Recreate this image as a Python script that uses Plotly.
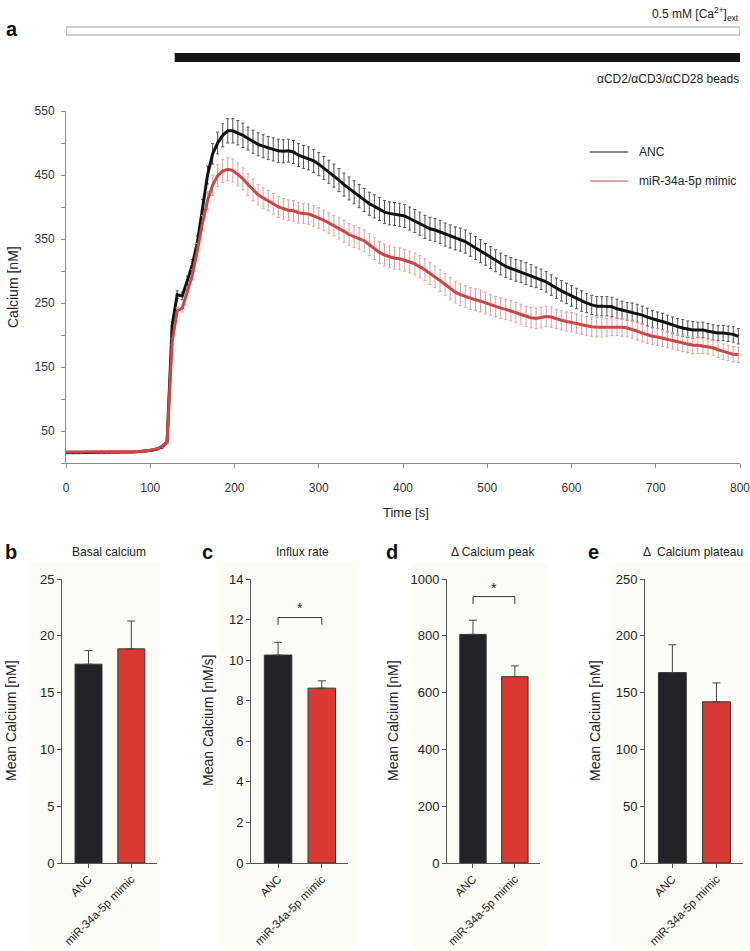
import plotly.graph_objects as go

# ---------------- data ----------------
time_s = list(range(0, 800, 6))  # sampling clock, 6 s

anc_mean = [16, 16, 16, 16.5, 17, 17, 17, 17, 17, 17,
            17, 17, 17, 17, 17.5, 18, 18.5, 20, 22, 25,
            33, 215, 263, 261, 285, 310, 345, 400, 450, 483,
            500, 512, 519, 519, 516, 512, 507, 502, 498, 495,
            492, 490, 488, 487, 488, 486, 481, 478, 476, 472,
            467, 461, 455, 449, 442, 435, 429, 423, 417, 411,
            405, 401, 397, 392, 390, 389, 388, 386, 382, 378,
            374, 369, 366, 364, 361, 357, 354, 351, 349, 346,
            341, 336, 331, 326, 321, 316, 311, 307, 304, 301,
            299, 296, 293, 290, 287, 283, 278, 273, 269, 265,
            261, 257, 253, 250, 247, 245, 245, 245, 244, 241,
            239, 237, 236, 234, 231, 228, 225, 223, 221, 218,
            215, 213, 211, 209, 208, 208, 208, 206, 204, 203,
            203, 202, 201, 198]

mimic_mean = [17, 17, 17, 17, 17.5, 17.5, 17, 17, 17, 17,
              17, 17, 17, 17.5, 18, 18, 19, 20, 22, 26,
              34, 190, 238, 242, 268, 294, 333, 375, 410, 434,
              449, 456, 459, 457, 451, 444, 435, 427, 419, 414,
              410, 405, 400, 397, 395, 394, 391, 390, 389, 386,
              383, 379, 375, 371, 367, 362, 357, 354, 351, 347,
              341, 335, 329, 325, 322, 320, 319, 317, 314, 311,
              307, 302, 296, 291, 285, 279, 273, 267, 263, 260,
              257, 255, 253, 250, 247, 244, 242, 240, 238, 235,
              232, 229, 227, 226, 227, 229, 228, 225, 223, 221,
              220, 218, 216, 214, 213, 212, 212, 212, 213, 213,
              212, 211, 209, 206, 203, 200, 198, 197, 195, 193,
              191, 189, 187, 185, 184, 184, 183, 182, 180, 177,
              174, 172, 170, 169]

anc_sem = [1, 1, 1, 1, 1, 1, 1, 1, 1, 1,
           1, 1, 1, 1, 1, 1, 1, 1.5, 2, 2,
           3, 6, 6, 6, 7, 8, 10, 12, 14, 16,
           17, 18, 19, 19, 19, 19, 18, 18, 18, 18,
           18, 18, 18, 18, 18, 18, 18, 18, 18, 18,
           18, 18, 18, 18, 18, 18, 18, 18, 18, 18,
           18, 18, 18, 18, 18, 18, 18, 18, 18, 18,
           18, 18, 18, 18, 18, 18, 18, 18, 18, 18,
           18, 18, 18, 17, 17, 17, 17, 17, 17, 17,
           17, 17, 17, 16, 16, 16, 16, 16, 16, 16,
           16, 16, 16, 15, 15, 15, 15, 15, 15, 15,
           14, 14, 14, 14, 14, 14, 13, 13, 13, 13,
           13, 13, 13, 13, 13, 12, 12, 12, 12, 12,
           12, 12, 12, 12]

mimic_sem = [1, 1, 1, 1, 1, 1, 1, 1, 1, 1,
             1, 1, 1, 1, 1, 1, 1, 1, 1.5, 2,
             3, 5, 5, 6, 7, 8, 10, 12, 14, 16,
             17, 18, 18, 18, 18, 17, 17, 17, 16, 16,
             16, 16, 16, 16, 16, 16, 16, 16, 16, 16,
             16, 16, 16, 16, 17, 17, 17, 17, 17, 17,
             17, 17, 17, 17, 17, 17, 17, 17, 17, 17,
             17, 17, 17, 17, 17, 17, 17, 17, 17, 17,
             17, 17, 17, 17, 16, 16, 16, 16, 16, 16,
             16, 16, 16, 16, 16, 16, 16, 15, 15, 15,
             15, 15, 15, 15, 15, 15, 15, 14, 14, 14,
             14, 14, 14, 14, 14, 13, 13, 13, 13, 13,
             13, 13, 13, 13, 13, 13, 12, 12, 12, 12,
             12, 12, 12, 12]

ca_period = [0, 800]       # 0.5 mM extracellular Ca2+
bead_period = [129, 800]   # bead stimulation

groups = ["ANC", "miR-34a-5p mimic"]
basal_mean = [17.5, 18.85]
basal_err = [1.2, 2.45]
influx_mean = [10.25, 8.62]
influx_err = [0.63, 0.36]
peak_mean = [805, 656]
peak_err = [50, 38]
plateau_mean = [167.6, 141.9]
plateau_err = [24.5, 16.6]

# ---------------- helpers ----------------
W, H = 750, 951
def px(x):
    return x / W
def py(y):
    return 1 - y / H
def clamp(v):
    return max(0.0, min(1.0, v))

FONT = "Arial, Liberation Sans, sans-serif"
BLACK_LINE = "#111111"
RED_LINE = "#cc4646"
ANC_BAR = "#222328"
MIMIC_BAR = "#d83a33"

fig = go.Figure()

# ---- main time course ----
fig.add_trace(go.Scatter(
    x=time_s, y=anc_mean, mode="markers",
    marker=dict(size=1, color="rgba(0,0,0,0)"),
    error_y=dict(type="data", array=anc_sem, color="#505050", thickness=1, width=1.5),
    showlegend=False, hoverinfo="skip", xaxis="x", yaxis="y"))
fig.add_trace(go.Scatter(
    x=time_s, y=anc_mean, mode="lines", name="ANC",
    line=dict(color=BLACK_LINE, width=3), showlegend=False, xaxis="x", yaxis="y"))
fig.add_trace(go.Scatter(
    x=time_s, y=mimic_mean, mode="markers",
    marker=dict(size=1, color="rgba(0,0,0,0)"),
    error_y=dict(type="data", array=mimic_sem, color="#e3a0a0", thickness=1, width=1.5),
    showlegend=False, hoverinfo="skip", xaxis="x", yaxis="y"))
fig.add_trace(go.Scatter(
    x=time_s, y=mimic_mean, mode="lines", name="miR-34a-5p mimic",
    line=dict(color=RED_LINE, width=3), showlegend=False, xaxis="x", yaxis="y"))

# ---- bar panels ----
panels = [
    ("2", basal_mean, basal_err),
    ("3", influx_mean, influx_err),
    ("4", peak_mean, peak_err),
    ("5", plateau_mean, plateau_err),
]
for ax, mean, err in panels:
    fig.add_trace(go.Bar(
        x=groups, y=mean, width=0.63,
        marker=dict(color=[ANC_BAR, MIMIC_BAR], line=dict(color="#333333", width=1)),
        error_y=dict(type="data", symmetric=False, array=err, arrayminus=[0, 0],
                     color="#444444", thickness=1, width=4),
        showlegend=False, xaxis="x" + ax, yaxis="y" + ax))

layout = dict(
    width=W, height=H,
    margin=dict(l=0, r=0, t=0, b=0, autoexpand=False),
    paper_bgcolor="white", plot_bgcolor="rgba(0,0,0,0)",
    font=dict(family=FONT, size=12, color="#222222"),
    xaxis=dict(domain=[clamp(px(66)), clamp(px(740))], range=[0, 800],
               tickvals=list(range(0, 801, 100)), ticklabeloverflow="allow",
               showline=True, linecolor="#8a8a8a", linewidth=1, ticks="outside", ticklen=4,
               tickcolor="#8a8a8a", showgrid=False, zeroline=False, automargin=False,
               tickfont=dict(size=12, color="#333333"), ticklabelstandoff=10, anchor="y"),
    yaxis=dict(domain=[clamp(py(463)), clamp(py(111))], range=[0, 550],
               tickvals=[50, 150, 250, 350, 450, 550],
               minor=dict(tick0=0, dtick=50, ticks="outside", ticklen=4, tickcolor="#8a8a8a"),
               showline=True, linecolor="#8a8a8a", linewidth=1,
               ticks="outside", ticklen=4, tickcolor="#8a8a8a", showgrid=False,
               zeroline=False, tickfont=dict(size=12, color="#333333"), automargin=False,
               ticklabelstandoff=4, anchor="x"),
)

bar_domains = {
    "2": ([62, 157], [0, 25], 5, [-0.62, 1.6]),
    "3": ([251, 348], [0, 14], 2, [-0.62, 1.6]),
    "4": ([447, 540], [0, 1000], 200, [-0.62, 1.6]),
    "5": ([645, 743], [0, 250], 50, [-0.62, 1.6]),
}
for ax, (xd, yr, dt, xr) in bar_domains.items():
    layout["xaxis" + ax] = dict(
        domain=[clamp(px(xd[0])), clamp(px(xd[1]))], range=xr, type="category",
        showline=True, linecolor="#555555", linewidth=1, ticks="outside", ticklen=4,
        tickcolor="#555555", tickangle=-45, tickfont=dict(size=11.5, color="#222222"),
        ticklabeloverflow="allow",
        showgrid=False, zeroline=False, automargin=False, anchor="y" + ax)
    layout["yaxis" + ax] = dict(
        domain=[clamp(py(863)), clamp(py(579))], range=yr, dtick=dt, tick0=0,
        showline=True, linecolor="#555555", linewidth=1, ticks="outside", ticklen=4,
        tickcolor="#555555", tickfont=dict(size=13, color="#222222"),
        showgrid=False, zeroline=False, automargin=False, anchor="x" + ax)

fig.update_layout(**layout)

shapes = []
# light panel backgrounds
for x0, x1 in [(30, 160), (218, 358), (412, 548), (610, 750)]:
    shapes.append(dict(type="rect", xref="paper", yref="paper", x0=px(x0), x1=px(x1),
                       y0=py(946), y1=py(562), fillcolor="#fcfcf7", line=dict(width=0),
                       layer="below"))
# period bars
shapes.append(dict(type="rect", xref="x", yref="paper", x0=ca_period[0], x1=ca_period[1],
                   y0=py(35), y1=py(27), fillcolor="white",
                   line=dict(color="#9a9a9a", width=1)))
shapes.append(dict(type="rect", xref="x", yref="paper", x0=bead_period[0], x1=bead_period[1],
                   y0=py(62), y1=py(53), fillcolor="#151515", line=dict(width=0)))
# legend lines
shapes.append(dict(type="line", xref="paper", yref="paper", x0=px(590), x1=px(628),
                   y0=py(152), y1=py(152), line=dict(color=BLACK_LINE, width=1.2)))
shapes.append(dict(type="line", xref="paper", yref="paper", x0=px(590), x1=px(628),
                   y0=py(181), y1=py(181), line=dict(color=RED_LINE, width=1.2)))
# significance brackets
shapes.append(dict(type="path", xref="x3", yref="y3",
                   path="M 0,11.75 L 0,12.1 L 1,12.1 L 1,11.75",
                   line=dict(color="#333333", width=1)))
shapes.append(dict(type="path", xref="x4", yref="y4",
                   path="M 0,912 L 0,938 L 1,938 L 1,912",
                   line=dict(color="#333333", width=1)))
fig.update_layout(shapes=shapes)

ann = []
def A(text, x, y, size=12, xanchor="center", yanchor="middle", angle=0, bold=False,
      color="#222222", xref="paper", yref="paper"):
    if bold:
        text = "<b>" + text + "</b>"
    ann.append(dict(text=text, x=x, y=y, xref=xref, yref=yref, showarrow=False,
                    xanchor=xanchor, yanchor=yanchor, textangle=angle,
                    font=dict(size=size, color=color, family=FONT)))

A("0.5 mM [Ca<sup>2+</sup>]<sub>ext</sub>", px(741), py(14), size=12, xanchor="right")
A("αCD2/αCD3/αCD28 beads", px(741), py(79), size=12, xanchor="right")
A("a", px(12), py(29), size=20, bold=True, color="#111111")
A("Calcium [nM]", px(13), py(287), size=14, angle=-90)
A("Time [s]", px(406), py(512), size=13)
A("ANC", px(637), py(152), size=12, xanchor="left")
A("miR-34a-5p mimic", px(637), py(181), size=12, xanchor="left")

for letter, lx, title, tx, ytitle, yx in [
        ("b", 11, "Basal calcium", 109, "Mean Calcium [nM]", 11),
        ("c", 207, "Influx rate", 302, "Mean Calcium [nM/s]", 208),
        ("d", 392, "Δ Calcium peak", 493, "Mean Calcium [nM]", 393),
        ("e", 593, "Δ  Calcium plateau", 693, "Mean Calcium [nM]", 595)]:
    A(letter, px(lx), py(552), size=20, bold=True, color="#111111")
    A(title, px(tx), py(552), size=12)
    A(ytitle, px(yx), py(721), size=14, angle=-90)

A("*", 0.5, 12.55, size=14, xref="x3", yref="y3")
A("*", 0.5, 967, size=14, xref="x4", yref="y4")
fig.update_layout(annotations=ann)

# remove the default 8 px page margin so the 750x951 figure fills the window
fig.write_html("out.html",
               config={"displayModeBar": False, "staticPlot": True},
               post_script="document.body.style.margin='0px';"
                           "document.body.style.overflow='hidden';")
